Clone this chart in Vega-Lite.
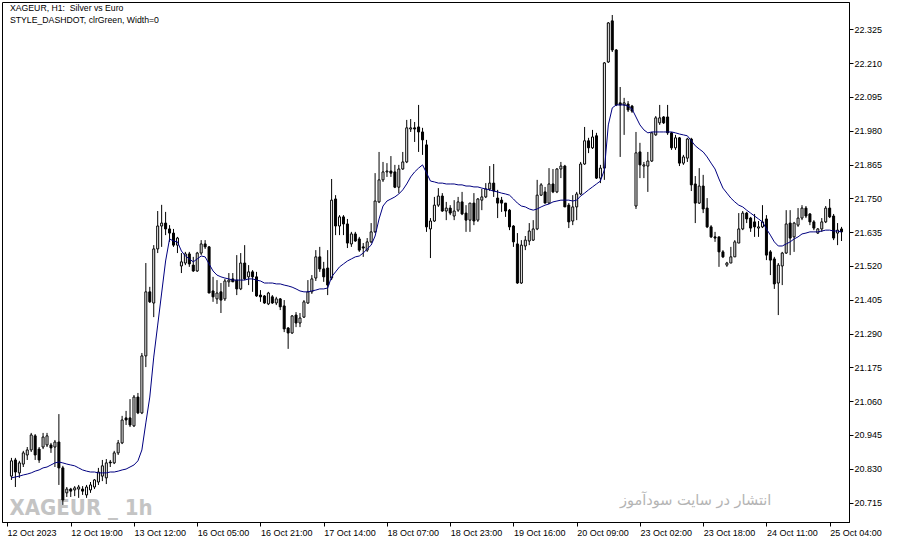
{
"$schema": "https://vega.github.io/schema/vega-lite/v6.json",
"width": 847, "height": 520,
"autosize": {"type": "none"},
"padding": {"left": 2, "top": 2, "right": 48, "bottom": 21},
"background": "white",
"config": {"view": {"stroke": "black", "strokeWidth": 1}, "font": "Liberation Sans",
  "axis": {"labelFont": "Liberation Sans", "labelFontSize": 9, "labelColor": "black", "tickColor": "black", "domainColor": "black", "grid": false, "labelOverlap": false, "labelBound": false, "labelFlush": false}},
"datasets": {"bars": [
{"i":0,"o":20.805,"h":20.867,"l":20.792,"c":20.857,"ma":20.799},
{"i":1,"o":20.860,"h":20.867,"l":20.768,"c":20.819,"ma":20.802},
{"i":2,"o":20.816,"h":20.857,"l":20.799,"c":20.850,"ma":20.805},
{"i":3,"o":20.846,"h":20.891,"l":20.836,"c":20.884,"ma":20.809},
{"i":4,"o":20.877,"h":20.904,"l":20.860,"c":20.894,"ma":20.812},
{"i":5,"o":20.894,"h":20.952,"l":20.887,"c":20.945,"ma":20.816},
{"i":6,"o":20.942,"h":20.948,"l":20.860,"c":20.877,"ma":20.822},
{"i":7,"o":20.897,"h":20.904,"l":20.850,"c":20.860,"ma":20.826},
{"i":8,"o":20.904,"h":20.952,"l":20.897,"c":20.938,"ma":20.833},
{"i":9,"o":20.911,"h":20.952,"l":20.904,"c":20.942,"ma":20.836},
{"i":10,"o":20.911,"h":20.918,"l":20.884,"c":20.901,"ma":20.843},
{"i":11,"o":20.904,"h":20.928,"l":20.836,"c":20.921,"ma":20.850},
{"i":12,"o":20.921,"h":21.016,"l":20.775,"c":20.833,"ma":20.853},
{"i":13,"o":20.833,"h":20.840,"l":20.707,"c":20.724,"ma":20.850},
{"i":14,"o":20.748,"h":20.768,"l":20.734,"c":20.761,"ma":20.846},
{"i":15,"o":20.761,"h":20.765,"l":20.734,"c":20.754,"ma":20.843},
{"i":16,"o":20.758,"h":20.771,"l":20.737,"c":20.765,"ma":20.840},
{"i":17,"o":20.761,"h":20.775,"l":20.731,"c":20.768,"ma":20.833},
{"i":18,"o":20.761,"h":20.771,"l":20.741,"c":20.754,"ma":20.826},
{"i":19,"o":20.741,"h":20.775,"l":20.731,"c":20.768,"ma":20.822},
{"i":20,"o":20.758,"h":20.785,"l":20.748,"c":20.775,"ma":20.819},
{"i":21,"o":20.768,"h":20.795,"l":20.761,"c":20.792,"ma":20.819},
{"i":22,"o":20.785,"h":20.833,"l":20.775,"c":20.819,"ma":20.816},
{"i":23,"o":20.805,"h":20.860,"l":20.788,"c":20.840,"ma":20.816},
{"i":24,"o":20.799,"h":20.863,"l":20.778,"c":20.850,"ma":20.816},
{"i":25,"o":20.853,"h":20.860,"l":20.836,"c":20.850,"ma":20.819},
{"i":26,"o":20.850,"h":20.891,"l":20.846,"c":20.884,"ma":20.819},
{"i":27,"o":20.884,"h":20.928,"l":20.877,"c":20.918,"ma":20.822},
{"i":28,"o":20.918,"h":21.010,"l":20.914,"c":20.996,"ma":20.826},
{"i":29,"o":21.003,"h":21.027,"l":20.979,"c":20.996,"ma":20.829},
{"i":30,"o":21.003,"h":21.067,"l":20.972,"c":20.979,"ma":20.836},
{"i":31,"o":20.976,"h":21.081,"l":20.972,"c":21.074,"ma":20.843},
{"i":32,"o":21.074,"h":21.088,"l":21.016,"c":21.020,"ma":20.857},
{"i":33,"o":21.020,"h":21.224,"l":21.016,"c":21.214,"ma":20.894},
{"i":34,"o":21.214,"h":21.530,"l":21.176,"c":21.432,"ma":20.986},
{"i":35,"o":21.432,"h":21.449,"l":21.394,"c":21.398,"ma":21.074},
{"i":36,"o":21.394,"h":21.591,"l":21.346,"c":21.578,"ma":21.210},
{"i":37,"o":21.578,"h":21.707,"l":21.564,"c":21.656,"ma":21.319},
{"i":38,"o":21.656,"h":21.728,"l":21.585,"c":21.666,"ma":21.428},
{"i":39,"o":21.666,"h":21.704,"l":21.625,"c":21.646,"ma":21.537},
{"i":40,"o":21.646,"h":21.659,"l":21.602,"c":21.632,"ma":21.612},
{"i":41,"o":21.632,"h":21.646,"l":21.585,"c":21.591,"ma":21.605},
{"i":42,"o":21.591,"h":21.619,"l":21.564,"c":21.615,"ma":21.602},
{"i":43,"o":21.520,"h":21.564,"l":21.496,"c":21.534,"ma":21.571},
{"i":44,"o":21.530,"h":21.568,"l":21.523,"c":21.561,"ma":21.554},
{"i":45,"o":21.561,"h":21.568,"l":21.517,"c":21.527,"ma":21.544},
{"i":46,"o":21.523,"h":21.551,"l":21.500,"c":21.503,"ma":21.534},
{"i":47,"o":21.503,"h":21.568,"l":21.500,"c":21.564,"ma":21.544},
{"i":48,"o":21.564,"h":21.608,"l":21.557,"c":21.595,"ma":21.554},
{"i":49,"o":21.595,"h":21.608,"l":21.578,"c":21.585,"ma":21.551},
{"i":50,"o":21.585,"h":21.588,"l":21.428,"c":21.428,"ma":21.527},
{"i":51,"o":21.435,"h":21.483,"l":21.398,"c":21.415,"ma":21.503},
{"i":52,"o":21.408,"h":21.472,"l":21.391,"c":21.428,"ma":21.489},
{"i":53,"o":21.432,"h":21.462,"l":21.360,"c":21.404,"ma":21.483},
{"i":54,"o":21.408,"h":21.476,"l":21.401,"c":21.469,"ma":21.479},
{"i":55,"o":21.466,"h":21.496,"l":21.449,"c":21.472,"ma":21.476},
{"i":56,"o":21.476,"h":21.496,"l":21.466,"c":21.466,"ma":21.472},
{"i":57,"o":21.472,"h":21.557,"l":21.421,"c":21.442,"ma":21.472},
{"i":58,"o":21.442,"h":21.564,"l":21.438,"c":21.530,"ma":21.472},
{"i":59,"o":21.530,"h":21.591,"l":21.472,"c":21.476,"ma":21.472},
{"i":60,"o":21.483,"h":21.523,"l":21.455,"c":21.500,"ma":21.476},
{"i":61,"o":21.500,"h":21.506,"l":21.432,"c":21.483,"ma":21.476},
{"i":62,"o":21.483,"h":21.500,"l":21.415,"c":21.418,"ma":21.472},
{"i":63,"o":21.421,"h":21.438,"l":21.398,"c":21.415,"ma":21.469},
{"i":64,"o":21.418,"h":21.421,"l":21.391,"c":21.394,"ma":21.462},
{"i":65,"o":21.391,"h":21.432,"l":21.387,"c":21.428,"ma":21.462},
{"i":66,"o":21.415,"h":21.421,"l":21.391,"c":21.394,"ma":21.462},
{"i":67,"o":21.394,"h":21.415,"l":21.387,"c":21.408,"ma":21.459},
{"i":68,"o":21.408,"h":21.411,"l":21.370,"c":21.381,"ma":21.459},
{"i":69,"o":21.384,"h":21.404,"l":21.295,"c":21.306,"ma":21.455},
{"i":70,"o":21.309,"h":21.312,"l":21.238,"c":21.292,"ma":21.452},
{"i":71,"o":21.292,"h":21.353,"l":21.289,"c":21.350,"ma":21.448},
{"i":72,"o":21.353,"h":21.363,"l":21.312,"c":21.326,"ma":21.442},
{"i":73,"o":21.326,"h":21.360,"l":21.312,"c":21.343,"ma":21.435},
{"i":74,"o":21.346,"h":21.404,"l":21.343,"c":21.398,"ma":21.432},
{"i":75,"o":21.394,"h":21.472,"l":21.391,"c":21.432,"ma":21.432},
{"i":76,"o":21.432,"h":21.489,"l":21.425,"c":21.476,"ma":21.435},
{"i":77,"o":21.479,"h":21.574,"l":21.469,"c":21.551,"ma":21.438},
{"i":78,"o":21.551,"h":21.585,"l":21.500,"c":21.510,"ma":21.442},
{"i":79,"o":21.510,"h":21.534,"l":21.466,"c":21.483,"ma":21.442},
{"i":80,"o":21.513,"h":21.574,"l":21.421,"c":21.455,"ma":21.445},
{"i":81,"o":21.479,"h":21.816,"l":21.472,"c":21.744,"ma":21.483},
{"i":82,"o":21.748,"h":21.761,"l":21.625,"c":21.656,"ma":21.500},
{"i":83,"o":21.656,"h":21.693,"l":21.625,"c":21.687,"ma":21.517},
{"i":84,"o":21.687,"h":21.693,"l":21.625,"c":21.663,"ma":21.527},
{"i":85,"o":21.663,"h":21.680,"l":21.581,"c":21.598,"ma":21.537},
{"i":86,"o":21.595,"h":21.636,"l":21.585,"c":21.629,"ma":21.544},
{"i":87,"o":21.629,"h":21.636,"l":21.602,"c":21.605,"ma":21.551},
{"i":88,"o":21.612,"h":21.619,"l":21.568,"c":21.574,"ma":21.554},
{"i":89,"o":21.585,"h":21.598,"l":21.551,"c":21.581,"ma":21.564},
{"i":90,"o":21.574,"h":21.615,"l":21.568,"c":21.602,"ma":21.578},
{"i":91,"o":21.602,"h":21.666,"l":21.598,"c":21.636,"ma":21.591},
{"i":92,"o":21.636,"h":21.836,"l":21.632,"c":21.741,"ma":21.622},
{"i":93,"o":21.738,"h":21.908,"l":21.734,"c":21.813,"ma":21.680},
{"i":94,"o":21.813,"h":21.874,"l":21.806,"c":21.840,"ma":21.724},
{"i":95,"o":21.840,"h":21.870,"l":21.823,"c":21.843,"ma":21.741},
{"i":96,"o":21.843,"h":21.894,"l":21.823,"c":21.836,"ma":21.748},
{"i":97,"o":21.840,"h":21.864,"l":21.785,"c":21.788,"ma":21.755},
{"i":98,"o":21.788,"h":21.864,"l":21.768,"c":21.850,"ma":21.765},
{"i":99,"o":21.850,"h":21.908,"l":21.847,"c":21.874,"ma":21.779},
{"i":100,"o":21.874,"h":22.017,"l":21.870,"c":21.990,"ma":21.799},
{"i":101,"o":21.986,"h":22.020,"l":21.976,"c":21.990,"ma":21.823},
{"i":102,"o":21.990,"h":22.010,"l":21.942,"c":21.986,"ma":21.840},
{"i":103,"o":21.993,"h":22.068,"l":21.908,"c":21.976,"ma":21.853},
{"i":104,"o":21.976,"h":21.990,"l":21.898,"c":21.949,"ma":21.864},
{"i":105,"o":21.932,"h":21.949,"l":21.636,"c":21.653,"ma":21.837},
{"i":106,"o":21.646,"h":21.683,"l":21.547,"c":21.673,"ma":21.809},
{"i":107,"o":21.673,"h":21.755,"l":21.670,"c":21.727,"ma":21.806},
{"i":108,"o":21.727,"h":21.785,"l":21.721,"c":21.758,"ma":21.802},
{"i":109,"o":21.758,"h":21.768,"l":21.704,"c":21.707,"ma":21.802},
{"i":110,"o":21.707,"h":21.738,"l":21.676,"c":21.717,"ma":21.799},
{"i":111,"o":21.717,"h":21.727,"l":21.693,"c":21.700,"ma":21.799},
{"i":112,"o":21.690,"h":21.744,"l":21.676,"c":21.707,"ma":21.799},
{"i":113,"o":21.710,"h":21.755,"l":21.704,"c":21.738,"ma":21.796},
{"i":114,"o":21.738,"h":21.772,"l":21.693,"c":21.697,"ma":21.796},
{"i":115,"o":21.700,"h":21.727,"l":21.636,"c":21.676,"ma":21.792},
{"i":116,"o":21.676,"h":21.734,"l":21.636,"c":21.734,"ma":21.792},
{"i":117,"o":21.734,"h":21.768,"l":21.659,"c":21.673,"ma":21.789},
{"i":118,"o":21.676,"h":21.751,"l":21.670,"c":21.748,"ma":21.789},
{"i":119,"o":21.744,"h":21.782,"l":21.710,"c":21.755,"ma":21.785},
{"i":120,"o":21.755,"h":21.802,"l":21.751,"c":21.782,"ma":21.782},
{"i":121,"o":21.782,"h":21.860,"l":21.775,"c":21.802,"ma":21.779},
{"i":122,"o":21.802,"h":21.867,"l":21.755,"c":21.775,"ma":21.775},
{"i":123,"o":21.751,"h":21.779,"l":21.683,"c":21.734,"ma":21.772},
{"i":124,"o":21.744,"h":21.755,"l":21.704,"c":21.734,"ma":21.768},
{"i":125,"o":21.734,"h":21.734,"l":21.687,"c":21.707,"ma":21.765},
{"i":126,"o":21.710,"h":21.714,"l":21.642,"c":21.653,"ma":21.761},
{"i":127,"o":21.656,"h":21.659,"l":21.585,"c":21.602,"ma":21.748},
{"i":128,"o":21.595,"h":21.632,"l":21.459,"c":21.462,"ma":21.734},
{"i":129,"o":21.462,"h":21.608,"l":21.459,"c":21.591,"ma":21.724},
{"i":130,"o":21.588,"h":21.622,"l":21.574,"c":21.608,"ma":21.721},
{"i":131,"o":21.605,"h":21.666,"l":21.591,"c":21.639,"ma":21.714},
{"i":132,"o":21.608,"h":21.676,"l":21.605,"c":21.646,"ma":21.710},
{"i":133,"o":21.646,"h":21.813,"l":21.642,"c":21.761,"ma":21.714},
{"i":134,"o":21.761,"h":21.802,"l":21.758,"c":21.796,"ma":21.721},
{"i":135,"o":21.772,"h":21.789,"l":21.734,"c":21.734,"ma":21.727},
{"i":136,"o":21.734,"h":21.853,"l":21.731,"c":21.799,"ma":21.731},
{"i":137,"o":21.799,"h":21.850,"l":21.768,"c":21.772,"ma":21.738},
{"i":138,"o":21.772,"h":21.853,"l":21.768,"c":21.850,"ma":21.741},
{"i":139,"o":21.850,"h":21.874,"l":21.819,"c":21.860,"ma":21.744},
{"i":140,"o":21.860,"h":21.864,"l":21.721,"c":21.721,"ma":21.744},
{"i":141,"o":21.727,"h":21.734,"l":21.649,"c":21.670,"ma":21.744},
{"i":142,"o":21.673,"h":21.761,"l":21.659,"c":21.721,"ma":21.741},
{"i":143,"o":21.721,"h":21.772,"l":21.676,"c":21.765,"ma":21.744},
{"i":144,"o":21.765,"h":21.874,"l":21.761,"c":21.867,"ma":21.758},
{"i":145,"o":21.867,"h":21.993,"l":21.864,"c":21.946,"ma":21.768},
{"i":146,"o":21.946,"h":21.956,"l":21.904,"c":21.922,"ma":21.779},
{"i":147,"o":21.922,"h":21.983,"l":21.918,"c":21.959,"ma":21.789},
{"i":148,"o":21.963,"h":21.973,"l":21.816,"c":21.819,"ma":21.799},
{"i":149,"o":21.819,"h":21.864,"l":21.802,"c":21.853,"ma":21.809},
{"i":150,"o":21.853,"h":22.214,"l":21.813,"c":22.211,"ma":21.847},
{"i":151,"o":22.214,"h":22.350,"l":22.211,"c":22.347,"ma":22.000},
{"i":152,"o":22.354,"h":22.374,"l":22.248,"c":22.255,"ma":22.058},
{"i":153,"o":22.255,"h":22.258,"l":22.064,"c":22.068,"ma":22.068},
{"i":154,"o":22.075,"h":22.129,"l":21.891,"c":22.068,"ma":22.068},
{"i":155,"o":22.068,"h":22.092,"l":21.966,"c":22.075,"ma":22.068},
{"i":156,"o":22.071,"h":22.081,"l":22.044,"c":22.051,"ma":22.064},
{"i":157,"o":22.064,"h":22.068,"l":22.041,"c":22.047,"ma":22.054},
{"i":158,"o":21.724,"h":21.976,"l":21.714,"c":21.905,"ma":22.027},
{"i":159,"o":21.908,"h":21.939,"l":21.819,"c":21.864,"ma":22.000},
{"i":160,"o":21.860,"h":21.874,"l":21.819,"c":21.864,"ma":21.983},
{"i":161,"o":21.860,"h":21.908,"l":21.772,"c":21.877,"ma":21.973},
{"i":162,"o":21.877,"h":21.976,"l":21.874,"c":21.973,"ma":21.976},
{"i":163,"o":21.966,"h":22.030,"l":21.963,"c":22.024,"ma":21.976},
{"i":164,"o":22.007,"h":22.068,"l":22.000,"c":22.024,"ma":21.976},
{"i":165,"o":22.027,"h":22.030,"l":22.003,"c":22.007,"ma":21.976},
{"i":166,"o":22.027,"h":22.068,"l":21.966,"c":21.973,"ma":21.976},
{"i":167,"o":21.973,"h":21.976,"l":21.915,"c":21.922,"ma":21.976},
{"i":168,"o":21.922,"h":21.966,"l":21.915,"c":21.956,"ma":21.973},
{"i":169,"o":21.956,"h":21.959,"l":21.860,"c":21.870,"ma":21.969},
{"i":170,"o":21.870,"h":21.898,"l":21.864,"c":21.891,"ma":21.966},
{"i":171,"o":21.887,"h":21.956,"l":21.874,"c":21.952,"ma":21.963},
{"i":172,"o":21.952,"h":21.956,"l":21.775,"c":21.796,"ma":21.946},
{"i":173,"o":21.799,"h":21.826,"l":21.666,"c":21.734,"ma":21.929},
{"i":174,"o":21.734,"h":21.853,"l":21.731,"c":21.792,"ma":21.918},
{"i":175,"o":21.792,"h":21.830,"l":21.700,"c":21.714,"ma":21.908},
{"i":176,"o":21.717,"h":21.751,"l":21.649,"c":21.653,"ma":21.891},
{"i":177,"o":21.653,"h":21.659,"l":21.615,"c":21.619,"ma":21.870},
{"i":178,"o":21.619,"h":21.636,"l":21.602,"c":21.615,"ma":21.850},
{"i":179,"o":21.619,"h":21.619,"l":21.517,"c":21.568,"ma":21.816},
{"i":180,"o":21.568,"h":21.574,"l":21.547,"c":21.551,"ma":21.785},
{"i":181,"o":21.523,"h":21.534,"l":21.517,"c":21.530,"ma":21.768},
{"i":182,"o":21.530,"h":21.585,"l":21.530,"c":21.551,"ma":21.751},
{"i":183,"o":21.551,"h":21.608,"l":21.551,"c":21.602,"ma":21.738},
{"i":184,"o":21.598,"h":21.700,"l":21.598,"c":21.646,"ma":21.727},
{"i":185,"o":21.646,"h":21.707,"l":21.642,"c":21.700,"ma":21.721},
{"i":186,"o":21.700,"h":21.704,"l":21.666,"c":21.680,"ma":21.710},
{"i":187,"o":21.683,"h":21.687,"l":21.636,"c":21.649,"ma":21.700},
{"i":188,"o":21.670,"h":21.697,"l":21.619,"c":21.653,"ma":21.690},
{"i":189,"o":21.649,"h":21.673,"l":21.619,"c":21.653,"ma":21.680},
{"i":190,"o":21.653,"h":21.727,"l":21.649,"c":21.670,"ma":21.670},
{"i":191,"o":21.680,"h":21.693,"l":21.540,"c":21.557,"ma":21.646},
{"i":192,"o":21.568,"h":21.574,"l":21.489,"c":21.540,"ma":21.625},
{"i":193,"o":21.544,"h":21.551,"l":21.442,"c":21.459,"ma":21.602},
{"i":194,"o":21.462,"h":21.530,"l":21.353,"c":21.523,"ma":21.588},
{"i":195,"o":21.520,"h":21.568,"l":21.455,"c":21.564,"ma":21.588},
{"i":196,"o":21.564,"h":21.710,"l":21.561,"c":21.663,"ma":21.595},
{"i":197,"o":21.666,"h":21.710,"l":21.557,"c":21.615,"ma":21.602},
{"i":198,"o":21.619,"h":21.670,"l":21.568,"c":21.666,"ma":21.612},
{"i":199,"o":21.659,"h":21.717,"l":21.653,"c":21.683,"ma":21.619},
{"i":200,"o":21.683,"h":21.727,"l":21.676,"c":21.717,"ma":21.629},
{"i":201,"o":21.717,"h":21.724,"l":21.683,"c":21.690,"ma":21.632},
{"i":202,"o":21.697,"h":21.700,"l":21.659,"c":21.670,"ma":21.636},
{"i":203,"o":21.670,"h":21.676,"l":21.642,"c":21.649,"ma":21.636},
{"i":204,"o":21.632,"h":21.649,"l":21.629,"c":21.646,"ma":21.636},
{"i":205,"o":21.646,"h":21.683,"l":21.636,"c":21.670,"ma":21.639},
{"i":206,"o":21.670,"h":21.724,"l":21.666,"c":21.717,"ma":21.642},
{"i":207,"o":21.717,"h":21.748,"l":21.683,"c":21.687,"ma":21.642},
{"i":208,"o":21.690,"h":21.697,"l":21.608,"c":21.615,"ma":21.639},
{"i":209,"o":21.632,"h":21.666,"l":21.591,"c":21.642,"ma":21.639},
{"i":210,"o":21.646,"h":21.653,"l":21.605,"c":21.636,"ma":21.636}
]},
"layer": [
  {"data": {"values": [{"t": "XAGEUR _ 1h"}]},
   "mark": {"type": "text", "align": "left", "baseline": "alphabetic", "font": "DejaVu Sans Condensed, Liberation Sans, sans-serif", "fontWeight": "bold", "fontSize": 22, "color": "#c4c4c4"},
   "encoding": {"x": {"datum": -0.5}, "y": {"datum": 20.6727}, "text": {"field": "t"}}},
  {"data": {"values": [{"t": "انتشار در سایت سودآموز"}]},
   "mark": {"type": "text", "align": "center", "baseline": "alphabetic", "font": "DejaVu Sans", "fontSize": 14.5, "color": "#b4b4b4"},
   "encoding": {"x": {"datum": 173.1}, "y": {"datum": 20.7067}, "text": {"field": "t"}}},
  {"data": {"name": "bars"},
   "mark": {"type": "rule", "color": "black", "strokeWidth": 1},
   "encoding": {
     "x": {"field": "i", "type": "quantitative", "title": null,
       "scale": {"domain": [-1.125, 210.625], "nice": false, "zero": false},
       "axis": {"values": [-1.125, 15, 31, 47, 63, 79, 95, 111, 127, 143, 159, 175, 191, 207],
         "labelExpr": "datum.value < 0 ? '12 Oct 2023' : ['12 Oct 19:00','13 Oct 12:00','16 Oct 05:00','16 Oct 21:00','17 Oct 14:00','18 Oct 07:00','18 Oct 23:00','19 Oct 16:00','20 Oct 09:00','23 Oct 02:00','23 Oct 18:00','24 Oct 11:00','25 Oct 04:00'][(datum.value - 15) / 16]",
         "labelAlign": "left", "labelDx": 2, "labelPadding": 2, "tickSize": 4, "tickCount": 30, "title": null}},
     "y": {"field": "l", "type": "quantitative", "title": null,
       "scale": {"domain": [20.6489, 22.4182], "nice": false, "zero": false},
       "axis": {"orient": "right", "values": [20.715, 20.83, 20.945, 21.06, 21.175, 21.29, 21.405, 21.52, 21.635, 21.75, 21.865, 21.98, 22.095, 22.21, 22.325],
         "format": ".3f", "tickSize": 4, "labelPadding": 1, "tickCount": 30, "title": null}},
     "y2": {"field": "h"}}},
  {"data": {"name": "bars"},
   "mark": {"type": "bar", "width": 2, "stroke": "black", "strokeWidth": 1},
   "encoding": {
     "x": {"field": "i", "type": "quantitative", "title": null},
     "y": {"field": "o", "type": "quantitative", "title": null},
     "y2": {"field": "c"},
     "fill": {"condition": {"test": "datum.c >= datum.o", "value": "white"}, "value": "black"}}},
  {"data": {"name": "bars"},
   "mark": {"type": "line", "color": "#000080", "strokeWidth": 1},
   "encoding": {
     "x": {"field": "i", "type": "quantitative", "title": null},
     "y": {"field": "ma", "type": "quantitative", "title": null}}},
  {"data": {"values": [{"t": "XAGEUR, H1: \u00a0Silver vs Euro"}]},
   "mark": {"type": "text", "align": "left", "baseline": "alphabetic", "font": "Liberation Sans", "fontSize": 8.7, "color": "black"},
   "encoding": {"x": {"datum": -0.375}, "y": {"datum": 22.3876}, "text": {"field": "t"}}},
  {"data": {"values": [{"t": "STYLE_DASHDOT, clrGreen, Width=0"}]},
   "mark": {"type": "text", "align": "left", "baseline": "alphabetic", "font": "Liberation Sans", "fontSize": 8.7, "color": "black"},
   "encoding": {"x": {"datum": -0.375}, "y": {"datum": 22.3467}, "text": {"field": "t"}}}
]
}
